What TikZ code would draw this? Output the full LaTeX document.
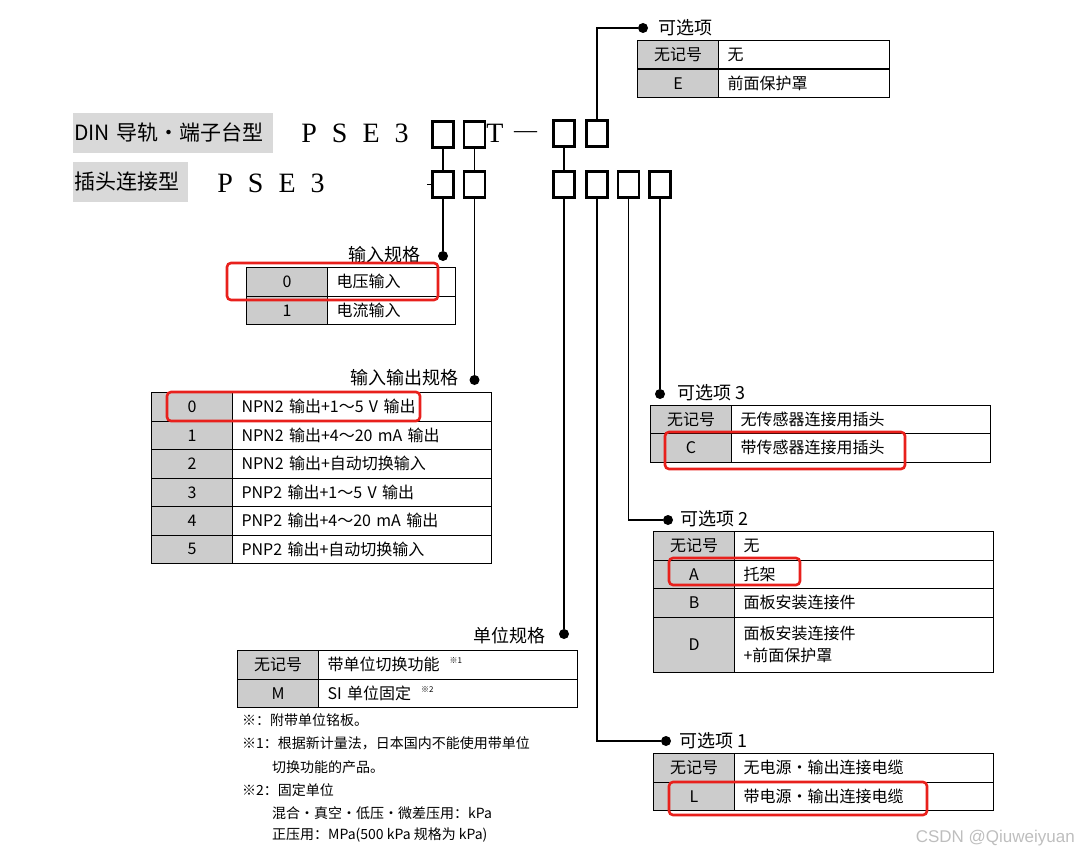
\documentclass[tikz,border=0pt]{standalone}
\usepackage{fontspec}
\setmainfont{Noto Sans CJK SC}
\newfontfamily\codefont{Liberation Serif}
\newfontfamily\markfont{Liberation Sans}
\definecolor{keygray}{RGB}{204,204,204}
\definecolor{titlegray}{RGB}{217,217,217}
\definecolor{markred}{RGB}{232,32,28}
\definecolor{wmgray}{RGB}{190,190,190}
\tikzset{
    codebox/.style={
        rectangle,
        draw=black,
        line width=2.4pt,
        minimum width=21pt,
        minimum height=26pt,
        inner sep=0pt
    },
    titlebox/.style={
        anchor=west,
        fill=titlegray,
        minimum height=40pt,
        inner xsep=1pt,
        inner ysep=0pt,
        align=left,
        font=\fontsize{21}{24}\selectfont
    },
    codetext/.style={
        inner sep=0pt,
        font=\codefont\fontsize{28}{30}\selectfont
    },
    keycell/.style={
        rectangle,
        draw=black,
        line width=1.1pt,
        fill=keygray,
        anchor=north west,
        minimum width=81pt,
        minimum height=28.5pt,
        inner sep=0pt,
        font=\fontsize{16}{20}\selectfont
    },
    txtcell/.style={
        rectangle,
        draw=black,
        line width=1.1pt,
        anchor=north west,
        text width=#1,
        minimum height=28.5pt,
        inner xsep=9pt,
        inner ysep=0pt,
        align=left,
        font=\fontsize{16}{22}\selectfont
    },
    txtcell/.default=241pt,
    grouptitle/.style={
        inner sep=2pt,
        font=\fontsize{18}{20}\selectfont
    },
    notetext/.style={
        anchor=west,
        inner sep=0pt,
        font=\fontsize{14}{16}\selectfont
    },
    jdot/.style={
        circle,
        fill=black,
        inner sep=0pt,
        minimum size=10pt
    },
    leader/.style={
        line width=1.4pt,
        draw=black
    },
    hilite/.style={
        draw=markred,
        line width=2.6pt,
        rounded corners=4pt
    }
}

\begin{document}
\begin{tikzpicture}[x=1pt, y=-1pt]
    \useasboundingbox (0,0) rectangle (1079,856);

    % Model code lines
    \node[titlebox, text width=198pt] (ttlDin) at (73,133) {DIN 导轨・端子台型};
    \node[titlebox, text width=113pt] (ttlPlug) at (73,182) {插头连接型};
    \node[codetext] (codeDin) at (355,133) {P\hspace{15pt}S\hspace{15pt}E\hspace{15pt}3};
    \node[codetext] (codePlug) at (271,183) {P\hspace{15pt}S\hspace{15pt}E\hspace{15pt}3};
    \node[codetext] (tDin) at (495,133) {T};
    \node[codetext, anchor=base, font=\codefont\fontsize{23}{24}\selectfont] (dashDin) at (525.5,138) {—};

    % Code boxes
    \node[codebox] (r1a) at (443,134.5) {};
    \node[codebox] (r1b) at (474.5,134.5) {};
    \node[codebox] (r1c) at (564,133.5) {};
    \node[codebox] (r1d) at (597,133.5) {};
    \node[codebox] (r2a) at (443,184.5) {};
    \node[codebox] (r2b) at (474.5,184.5) {};
    \node[codebox] (r2c) at (564,184.5) {};
    \node[codebox] (r2d) at (597,184.5) {};
    \node[codebox] (r2e) at (628.5,184.5) {};
    \node[codebox] (r2f) at (660,184.5) {};
    \draw[line width=1pt] (r2a.west) -- ++(-4,0);

    % Dots
    \node[jdot] (dotOpt0) at (643,28) {};
    \node[jdot] (dotIn) at (443,256) {};
    \node[jdot] (dotIO) at (474.5,380) {};
    \node[jdot] (dotUnit) at (564,634) {};
    \node[jdot] (dotOpt3) at (660,394) {};
    \node[jdot] (dotOpt2) at (668,520) {};
    \node[jdot] (dotOpt1) at (666,741) {};

    % Leader lines
    \draw[leader] (r1a) -- (r2a);
    \draw[leader] (r1b) -- (r2b);
    \draw[leader] (r1c) -- (r2c);
    \draw[leader] (r1d) |- (dotOpt0);
    \draw[leader] (r2a) -- (dotIn);
    \draw[leader] (r2b) -- (dotIO);
    \draw[leader] (r2c) -- (dotUnit);
    \draw[leader] (r2d) |- (dotOpt1);
    \draw[leader] (r2e) |- (dotOpt2);
    \draw[leader] (r2f) -- (dotOpt3);

    % Group titles
    \node[grouptitle, anchor=west] (ttlOpt0) at (656,28) {可选项};
    \node[grouptitle, anchor=east] (ttlIn) at (423,255) {输入规格};
    \node[grouptitle, anchor=east] (ttlIO) at (461,378) {输入输出规格};
    \node[grouptitle, anchor=east] (ttlUnit) at (548,636) {单位规格};
    \node[grouptitle, anchor=west] (ttlOpt3) at (675,393) {可选项 3};
    \node[grouptitle, anchor=west] (ttlOpt2) at (678,519) {可选项 2};
    \node[grouptitle, anchor=west] (ttlOpt1) at (677,741) {可选项 1};

    % Option table (top)
    \node[keycell] (opt0K1) at (637,40) {无记号};
    \node[txtcell=153pt] (opt0T1) at (718,40) {无};
    \node[keycell] (opt0K2) at (637,68.5) {E};
    \node[txtcell=153pt] (opt0T2) at (718,68.5) {前面保护罩};

    % Input table
    \node[keycell] (inK1) at (246,267) {0};
    \node[txtcell=110pt] (inT1) at (327,267) {电压输入};
    \node[keycell] (inK2) at (246,295.5) {1};
    \node[txtcell=110pt] (inT2) at (327,295.5) {电流输入};

    % Input/output table
    \node[keycell] (ioK0) at (151,392) {0};
    \node[txtcell] (ioT0) at (232,392) {NPN2 输出+1～5 V 输出};
    \node[keycell] (ioK1) at (151,420.5) {1};
    \node[txtcell] (ioT1) at (232,420.5) {NPN2 输出+4～20 mA 输出};
    \node[keycell] (ioK2) at (151,449) {2};
    \node[txtcell] (ioT2) at (232,449) {NPN2 输出+自动切换输入};
    \node[keycell] (ioK3) at (151,477.5) {3};
    \node[txtcell] (ioT3) at (232,477.5) {PNP2 输出+1～5 V 输出};
    \node[keycell] (ioK4) at (151,506) {4};
    \node[txtcell] (ioT4) at (232,506) {PNP2 输出+4～20 mA 输出};
    \node[keycell] (ioK5) at (151,534.5) {5};
    \node[txtcell] (ioT5) at (232,534.5) {PNP2 输出+自动切换输入};

    % Unit table and notes
    \node[keycell] (unitK1) at (237,650) {无记号};
    \node[txtcell] (unitT1) at (318,650) {带单位切换功能\hspace{10pt}\raisebox{7pt}{\fontsize{8}{8}\selectfont ※1}};
    \node[keycell] (unitK2) at (237,678.5) {M};
    \node[txtcell] (unitT2) at (318,678.5) {SI 单位固定\hspace{10pt}\raisebox{7pt}{\fontsize{8}{8}\selectfont ※2}};
    \node[notetext] (note0) at (242,720) {※：附带单位铭板。};
    \node[notetext] (note1) at (242,743) {※1：根据新计量法，日本国内不能使用带单位};
    \node[notetext] (note2) at (272,767) {切换功能的产品。};
    \node[notetext] (note3) at (242,790) {※2：固定单位};
    \node[notetext] (note4) at (272,813) {混合・真空・低压・微差压用：kPa};
    \node[notetext] (note5) at (272,835) {正压用：MPa(500 kPa 规格为 kPa)};

    % Option 3 table
    \node[keycell] (opt3K1) at (650,404.5) {无记号};
    \node[txtcell] (opt3T1) at (731,404.5) {无传感器连接用插头};
    \node[keycell] (opt3K2) at (650,433) {C};
    \node[txtcell] (opt3T2) at (731,433) {带传感器连接用插头};

    % Option 2 table
    \node[keycell] (opt2K1) at (653,531) {无记号};
    \node[txtcell] (opt2T1) at (734,531) {无};
    \node[keycell] (opt2K2) at (653,559.5) {A};
    \node[txtcell] (opt2T2) at (734,559.5) {托架};
    \node[keycell] (opt2K3) at (653,588) {B};
    \node[txtcell] (opt2T3) at (734,588) {面板安装连接件};
    \node[keycell, minimum height=55.5pt] (opt2K4) at (653,616.5) {D};
    \node[txtcell, minimum height=55.5pt] (opt2T4) at (734,616.5) {面板安装连接件\\+前面保护罩};

    % Option 1 table
    \node[keycell] (opt1K1) at (653,753) {无记号};
    \node[txtcell] (opt1T1) at (734,753) {无电源・输出连接电缆};
    \node[keycell] (opt1K2) at (653,781.5) {L};
    \node[txtcell] (opt1T2) at (734,781.5) {带电源・输出连接电缆};

    % Red marks
    \draw[hilite] (227,263) rectangle (438,300);
    \draw[hilite] (167,392) rectangle (420,421);
    \draw[hilite] (665,432) rectangle (905,469);
    \draw[hilite] (669,558) rectangle (800,585);
    \draw[hilite] (669,782) rectangle (927,815);

    % Watermark
    \node[anchor=east, inner sep=0pt, text=wmgray, font=\markfont\fontsize{17}{20}\selectfont] (wmark) at (1075,838) {CSDN @Qiuweiyuan};
\end{tikzpicture}
\end{document}
